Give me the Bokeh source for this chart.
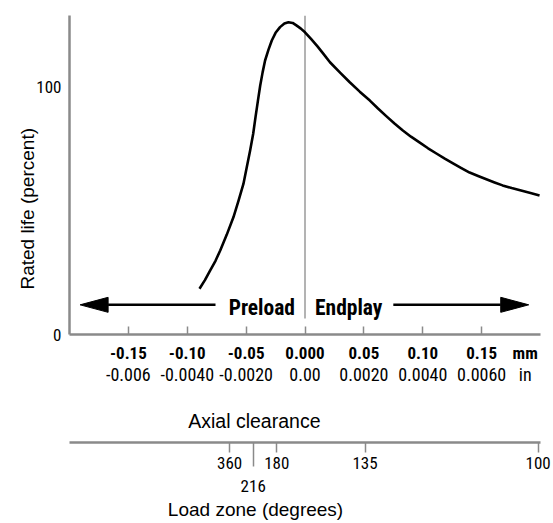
import math
from bokeh.plotting import figure
from bokeh.models import LinearAxis, FixedTicker, Range1d, ColumnDataSource
from bokeh.core.properties import value
from bokeh.embed import file_html
from bokeh.resources import INLINE

# ---------------- data ----------------
clearance_mm = [-0.0896, -0.0850, -0.0805, -0.0760, -0.0720, -0.0665, -0.0608, -0.0565,
                -0.0523, -0.0495, -0.0466, -0.0440, -0.0420, -0.0400, -0.0381, -0.0360,
                -0.0339, -0.0310, -0.0282, -0.0250, -0.0212, -0.0175, -0.0141, -0.0105,
                -0.0070, -0.0035, 0.0000, 0.0053, 0.0106, 0.0160, 0.0212, 0.0300,
                0.0380, 0.0465, 0.0551, 0.0620, 0.0690, 0.0760, 0.0831, 0.0900,
                0.0975, 0.1045, 0.1116, 0.1187, 0.1257, 0.1328, 0.1398, 0.1470,
                0.1540, 0.1610, 0.1678, 0.1755, 0.1835, 0.1915, 0.1992]
rated_life = [18.5, 22.0, 25.9, 29.8, 34.0, 40.3, 47.4, 54.0,
              60.9, 67.5, 74.4, 81.2, 88.0, 94.5, 100.5, 106.0,
              110.8, 115.2, 118.9, 122.0, 124.3, 125.8, 126.3, 126.0,
              124.9, 123.7, 122.2, 119.4, 116.5, 113.3, 110.1, 105.8,
              102.0, 98.2, 94.6, 91.4, 88.3, 85.3, 82.5, 80.0,
              77.6, 75.3, 73.2, 71.1, 69.2, 67.3, 65.5, 64.1,
              62.8, 61.5, 60.3, 59.2, 58.2, 57.2, 56.2]

mm_ticks = [-0.15, -0.10, -0.05, 0.0, 0.05, 0.10, 0.15]
mm_labels = ["-0.15", "-0.10", "-0.05", "0.000", "0.05", "0.10", "0.15"]
in_labels = ["-0.006", "-0.0040", "-0.0020", "0.00", "0.0020", "0.0040", "0.0060"]
unit_pos = 0.187
mm_unit = "mm"
in_unit = "in"

load_zone_mm = [-0.064, -0.044, -0.024, 0.051, 0.198]
load_zone_deg = ["360", "216", "180", "135", "100"]

life_ticks = [0, 100]
life_labels = ["0", "100"]

x_title = "Axial clearance"
x_title_pos = -0.043
lz_title = "Load zone (degrees)"
lz_title_pos = -0.042
y_title = "Rated life (percent)"
y_title_pos = 83.5   # upper end of the rotated title

arrow_names = ["Preload", "Endplay"]
arrow_tail = [-0.076, 0.075]
arrow_tip = [-0.191, 0.190]
arrow_level = 12.0
zero_line_bottom = 6.5

x_lo, x_hi = -0.2, 0.2
y_lo, y_hi = 0, 129

# ---------------- styles ----------------
COND = "Roboto Condensed"
SANS = "Liberation Sans"
AXIS_GRAY = "#8a8a8a"
LH = 1.0
W, H = 553, 523
FRAME_L, FRAME_T, FRAME_R, FRAME_B = 69, 15, 540, 334

p = figure(width=W, height=H, output_backend="svg", toolbar_location=None,
           x_range=Range1d(x_lo, x_hi), y_range=Range1d(y_lo, y_hi),
           x_axis_location=None, y_axis_location="left",
           min_border_left=FRAME_L, min_border_top=FRAME_T,
           min_border_right=W - FRAME_R, min_border_bottom=H - FRAME_B)
p.outline_line_color = None
p.xgrid.visible = False
p.ygrid.visible = False
p.background_fill_color = "white"
p.border_fill_color = "white"


def bare_axis(ticks, labels, font, size, standoff, style="normal"):
    """An axis row that shows only text labels (no line, no tick marks)."""
    ax = LinearAxis(ticker=FixedTicker(ticks=list(ticks)),
                    major_label_overrides={float(t): l for t, l in zip(ticks, labels)})
    ax.axis_line_color = None
    ax.major_tick_line_color = None
    ax.minor_tick_line_color = None
    ax.major_tick_out = 0
    ax.major_tick_in = 0
    ax.major_label_standoff = standoff
    ax.major_label_text_font = font
    ax.major_label_text_font_size = size
    ax.major_label_text_font_style = style
    ax.major_label_text_color = "black"
    ax.major_label_text_line_height = LH
    return ax


# left axis
ya = p.yaxis[0]
ya.ticker = FixedTicker(ticks=life_ticks)
ya.major_label_overrides = {float(t): l for t, l in zip(life_ticks, life_labels)}
ya.axis_line_color = AXIS_GRAY
ya.axis_line_width = 2.5
ya.major_tick_line_color = None
ya.minor_tick_line_color = None
ya.major_tick_out = 0
ya.major_tick_in = 0
ya.major_label_standoff = 8
ya.major_label_text_font = COND
ya.major_label_text_font_size = "17px"
ya.major_label_text_color = "black"

# left title as a rotated label row
yt = bare_axis([y_title_pos], [y_title], SANS, "19px", 6)
yt.major_label_orientation = math.pi / 2
p.add_layout(yt, "left")

# axis 1: mm (bold) with tick marks
mm_over = {float(t): l for t, l in zip(mm_ticks, mm_labels)}
mm_over[float(unit_pos)] = mm_unit
ax1 = LinearAxis(ticker=FixedTicker(ticks=mm_ticks + [unit_pos], minor_ticks=mm_ticks),
                 major_label_overrides=mm_over)
ax1.axis_line_color = AXIS_GRAY
ax1.axis_line_width = 2.5
ax1.major_tick_line_color = None
ax1.major_tick_out = 0
ax1.major_tick_in = 0
ax1.minor_tick_line_color = AXIS_GRAY
ax1.minor_tick_line_width = 1.5
ax1.minor_tick_in = 8
ax1.minor_tick_out = 0
ax1.major_label_standoff = 8
ax1.major_label_text_font = COND
ax1.major_label_text_font_size = "17px"
ax1.major_label_text_font_style = "bold"
ax1.major_label_text_color = "black"
ax1.major_label_text_line_height = LH
p.add_layout(ax1, "below")

# axis 2: inches
p.add_layout(bare_axis(mm_ticks + [unit_pos], in_labels + [in_unit], COND, "18px", -2), "below")

# axial clearance title
p.add_layout(bare_axis([x_title_pos], [x_title], SANS, "19.5px", 22), "below")

# spacer
sp = LinearAxis(ticker=FixedTicker(ticks=[]))
sp.axis_line_color = None
sp.major_tick_line_color = None
sp.minor_tick_line_color = None
sp.major_tick_out = 0
sp.major_label_standoff = 0
sp.axis_label = " "
sp.axis_label_text_font_size = "2px"
sp.axis_label_text_line_height = LH
sp.axis_label_standoff = 3
p.add_layout(sp, "below")

# axis 3: load zone
lz_major = [m for m, d in zip(load_zone_mm, load_zone_deg) if d != "216"]
lz_minor = [m for m, d in zip(load_zone_mm, load_zone_deg) if d == "216"]
lz_over = {float(m): d for m, d in zip(load_zone_mm, load_zone_deg) if d != "216"}
ax3 = LinearAxis(ticker=FixedTicker(ticks=lz_major, minor_ticks=lz_minor),
                 major_label_overrides=lz_over)
ax3.axis_line_color = AXIS_GRAY
ax3.axis_line_width = 2.5
ax3.major_tick_line_color = AXIS_GRAY
ax3.major_tick_line_width = 1.5
ax3.major_tick_out = 10
ax3.major_tick_in = 0
ax3.minor_tick_line_color = AXIS_GRAY
ax3.minor_tick_line_width = 1.5
ax3.minor_tick_out = 24
ax3.minor_tick_in = 0
ax3.major_label_standoff = -10
ax3.major_label_text_font = COND
ax3.major_label_text_font_size = "17px"
ax3.major_label_text_color = "black"
ax3.major_label_text_line_height = LH
p.add_layout(ax3, "below")

# axis 4: the 216 label
p.add_layout(bare_axis(lz_minor, ["216"], COND, "17px", 8), "below")

# load zone title
p.add_layout(bare_axis([lz_title_pos], [lz_title], SANS, "19px", 4), "below")

# zero clearance line
p.segment(x0=[0.0], y0=[zero_line_bottom], x1=[0.0], y1=[y_hi],
          line_color="#9a9a9a", line_width=1.5)

# curve
src = ColumnDataSource(dict(x=clearance_mm, y=rated_life))
p.line("x", "y", source=src, line_color="black", line_width=2.6, line_join="round")

# arrows (shaft + triangular head; head size given in pixels)
HEAD_LEN_PX, HEAD_HALF_PX = 28, 7.5
dx_per_px = (x_hi - x_lo) / (FRAME_R - FRAME_L)
dy_per_px = (y_hi - y_lo) / (FRAME_B - FRAME_T)
hx, hy = HEAD_LEN_PX * dx_per_px, HEAD_HALF_PX * dy_per_px
xs_heads, ys_heads, sx0, sx1 = [], [], [], []
for tail, tip in zip(arrow_tail, arrow_tip):
    d = 1 if tip > tail else -1
    base = tip - d * hx
    xs_heads.append([tip, base, base])
    ys_heads.append([arrow_level, arrow_level + hy, arrow_level - hy])
    sx0.append(tail)
    sx1.append(base)
p.segment(x0=sx0, y0=[arrow_level] * 2, x1=sx1, y1=[arrow_level] * 2,
          line_color="black", line_width=2.5)
p.patches(xs_heads, ys_heads, fill_color="black", line_color="black", line_width=1)

# arrow texts
TEXT_GAP = 0.0085
p.text(x=[-TEXT_GAP], y=[arrow_level], text=[arrow_names[0]], text_align="right",
       text_baseline="middle", text_font=value(COND), text_font_size=value("21.5px"),
       text_font_style="bold", text_color="black", y_offset=3)
p.text(x=[TEXT_GAP], y=[arrow_level], text=[arrow_names[1]], text_align="left",
       text_baseline="middle", text_font=value(COND), text_font_size=value("21.5px"),
       text_font_style="bold", text_color="black", y_offset=3)

open("out.html", "w").write(file_html(p, INLINE))
